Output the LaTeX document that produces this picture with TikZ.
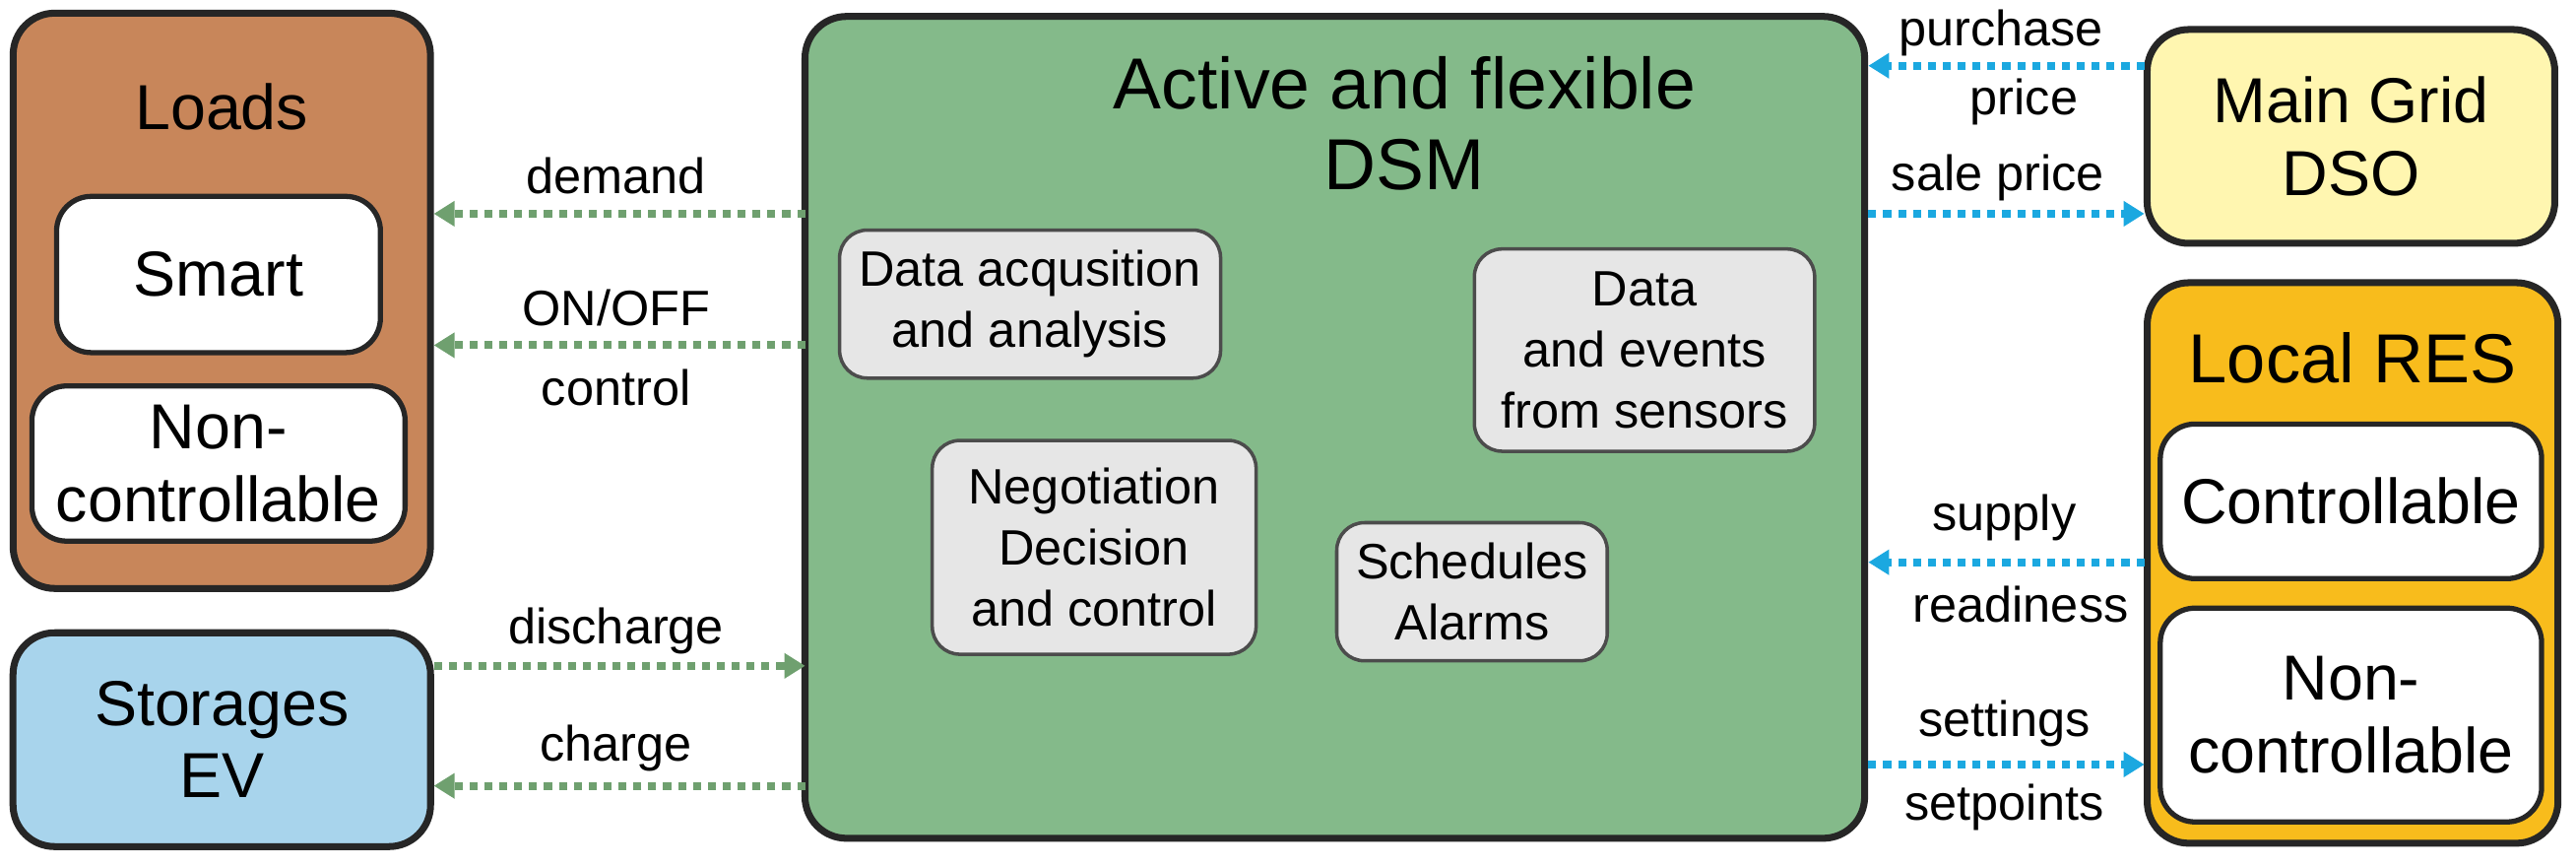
\documentclass[tikz,border=0pt]{standalone}
\usepackage{fontspec}
\setmainfont{Liberation Sans}
\usetikzlibrary{arrows.meta}
\definecolor{brownf}{HTML}{C8865A}
\definecolor{bluef}{HTML}{A8D4EC}
\definecolor{greenf}{HTML}{84BA8A}
\definecolor{grayf}{HTML}{E6E6E6}
\definecolor{yellowf}{HTML}{FFF6B0}
\definecolor{orangef}{HTML}{F8BC1C}
\definecolor{garr}{HTML}{6FA06F}
\definecolor{barr}{HTML}{1BA8E0}
\begin{document}
\begin{tikzpicture}[x=0.01cm,y=-0.01cm,scale=1.668,transform shape,
 box/.style={draw=black!85,line width=2pt,rounded corners=12pt},
 wbox/.style={draw=black!85,line width=1.5pt,rounded corners=10pt,fill=white,font=\fontsize{11}{12.5}\selectfont,align=center},
 gbox/.style={draw=black!70,line width=1pt,rounded corners=8pt,fill=grayf,font=\fontsize{8.6}{10.5}\selectfont,align=center},
 big/.style={font=\fontsize{11}{12.5}\selectfont,align=center},
 lab/.style={font=\fontsize{8.6}{10}\selectfont},
 ga/.style={draw=garr,line width=2.3pt,dotted,-{Triangle[width=7pt,length=6pt]}},
 ba/.style={draw=barr,line width=2.3pt,dotted,-{Triangle[width=7pt,length=6pt]}}]
\useasboundingbox (0,0) rectangle (1568,527);
% boxes
\draw[box,fill=brownf] (8,8) rectangle (262,358);
\node[big] (loads) at (135,65) {Loads};
\node[wbox,minimum width=1.97cm,minimum height=0.95cm] (smart) at (133,167) {Smart};
\node[wbox,minimum width=2.27cm,minimum height=0.93cm] (nonc1) at (133,282) {Non-\\controllable};
\node[box,fill=bluef,minimum width=2.54cm,minimum height=1.30cm,big] (stor) at (135,450) {Storages\\EV};
\draw[box,fill=greenf] (490,10) rectangle (1135,510);
\node[big,font=\fontsize{12.5}{14}\selectfont] (dsm) at (855,75) {Active and flexible\\DSM};
\node[gbox,minimum width=2.31cm,minimum height=0.90cm] (acq) at (627,185) {Data acqusition\\and analysis};
\node[gbox,minimum width=2.07cm,minimum height=1.23cm] (ev) at (1001,213) {Data\\and events\\from sensors};
\node[gbox,minimum width=1.97cm,minimum height=1.30cm] (neg) at (666,333) {Negotiation\\Decision\\and control};
\node[gbox,minimum width=1.63cm,minimum height=0.84cm] (sch) at (896,360) {Schedules\\Alarms};
\node[box,fill=yellowf,minimum width=2.48cm,minimum height=1.30cm,big] (grid) at (1431,83) {Main Grid\\DSO};
\draw[box,fill=orangef] (1307,172) rectangle (1557,513);
\node[big,font=\fontsize{12}{14}\selectfont] (res) at (1432,218) {Local RES};
\node[wbox,minimum width=2.32cm,minimum height=0.94cm] (ctrl) at (1431,305) {Controllable};
\node[wbox,minimum width=2.32cm,minimum height=1.30cm] (nonc2) at (1431,435) {Non-\\controllable};
% coordinates
\coordinate (dL1) at (490,130); \coordinate (lR1) at (264,130);
\coordinate (dL2) at (490,210); \coordinate (lR2) at (264,210);
\coordinate (dL3) at (490,405); \coordinate (sR3) at (264,405);
\coordinate (dL4) at (490,478); \coordinate (sR4) at (264,478);
\coordinate (dR1) at (1137,40); \coordinate (gL1) at (1305,40);
\coordinate (dR2) at (1137,130); \coordinate (gL2) at (1305,130);
\coordinate (dR3) at (1137,342); \coordinate (rL3) at (1305,342);
\coordinate (dR4) at (1137,465); \coordinate (rL4) at (1305,465);
\draw[ga] (dL1) -- (lR1);
\draw[ga] (dL2) -- (lR2);
\draw[ga] (sR3) -- (dL3);
\draw[ga] (dL4) -- (sR4);
\draw[ba] (gL1) -- (dR1);
\draw[ba] (dR2) -- (gL2);
\draw[ba] (rL3) -- (dR3);
\draw[ba] (dR4) -- (rL4);
% labels
\node[lab] (t1) at (375,107) {demand};
\node[lab] (t2) at (375,187) {ON/OFF};
\node[lab] (t3) at (375,236) {control};
\node[lab] (t4) at (375,384) {discharge};
\node[lab] (t5) at (375,455) {charge};
\node[lab] (t6) at (1218,20) {purchase};
\node[lab] (t7) at (1232,62) {price};
\node[lab] (t8) at (1216,108) {sale price};
\node[lab] (t9) at (1220,315) {supply};
\node[lab] (t10) at (1230,368) {readiness};
\node[lab] (t11) at (1220,440) {settings};
\node[lab] (t12) at (1220,491) {setpoints};
\end{tikzpicture}
\end{document}
